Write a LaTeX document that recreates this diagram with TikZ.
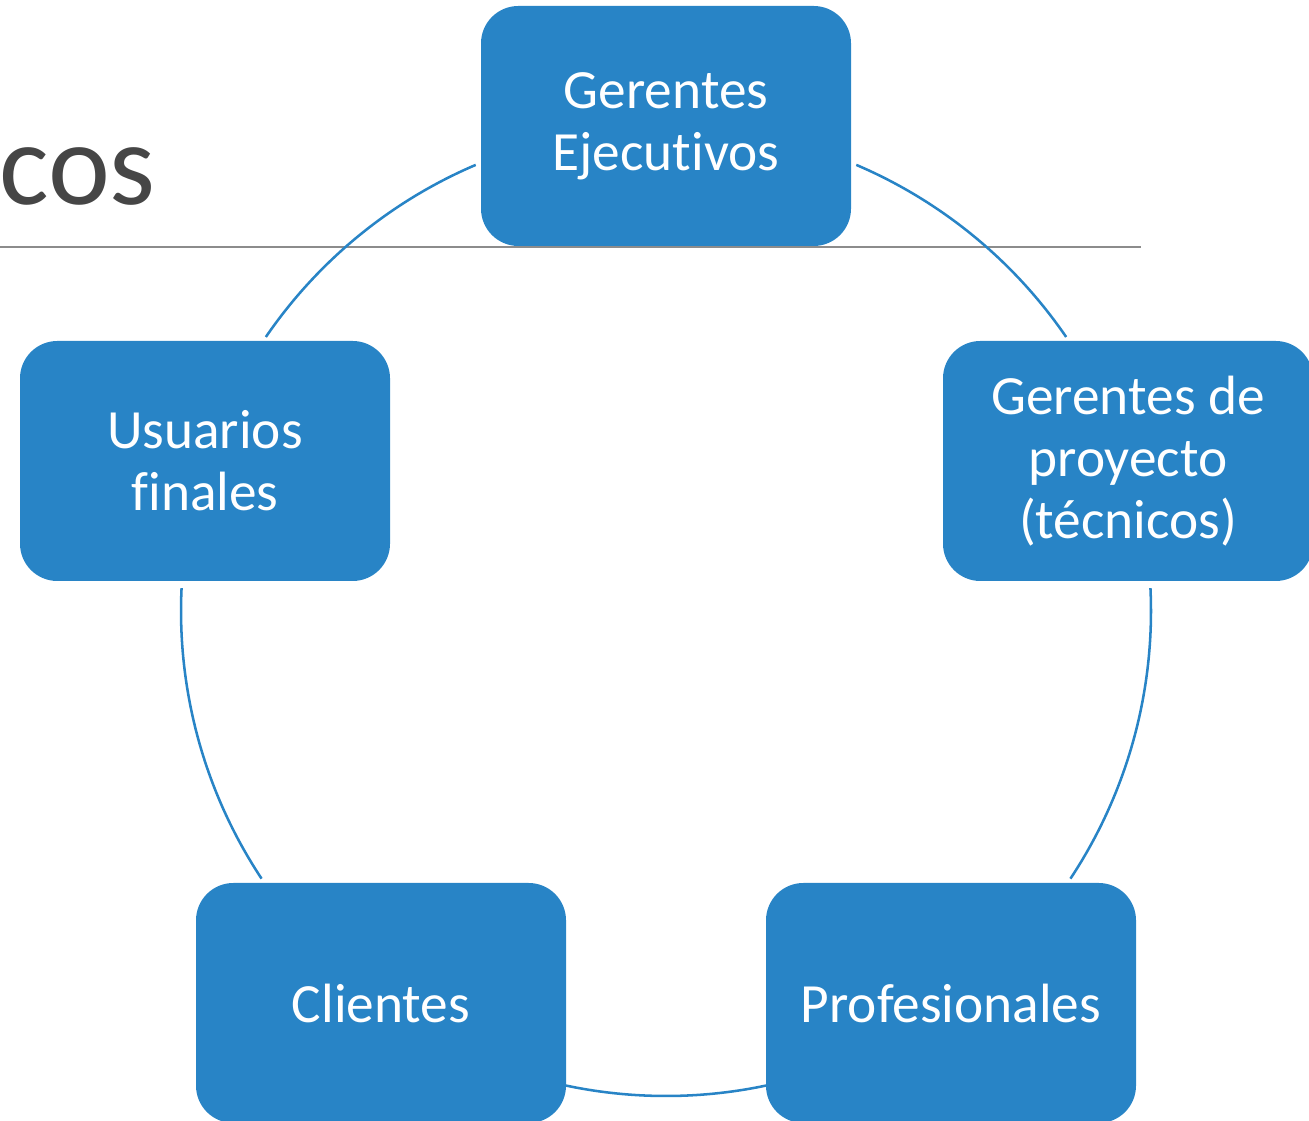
\documentclass[tikz,border=0pt]{standalone}
\usepackage{fontspec}
\setmainfont{Carlito}[Ligatures={NoCommon}]
\usetikzlibrary{positioning}

\definecolor{cycblue}{RGB}{40,132,198}
\definecolor{titlegray}{RGB}{70,70,70}
\definecolor{rulegray}{RGB}{140,140,140}

\tikzset{
  cycbox/.style={draw=none,fill=cycblue,rounded corners=28pt,minimum width=277.5pt,minimum height=180pt,inner sep=0pt,align=center,text=white,font=\fontsize{41.5}{46.5}\selectfont},
  cycarc/.style={draw=cycblue,line width=1.9pt}
}

\begin{document}
\begin{tikzpicture}[x=0.75pt,y=0.75pt]
\useasboundingbox (0,0) rectangle (1309,1120);
\clip (0,0) rectangle (1309,1120);

%Title (cut off on the left)
\node[anchor=base east,inner sep=0pt,text=titlegray,font=\fontsize{88}{100}\selectfont] (ttl) at (156,915) {cos};
%Straight Lines: title rule
\draw[rulegray,line width=1pt] (0,873) -- (1141,873);

%Shape: Circle centre of the cycle
\coordinate (ctr) at (666,509);

%Curve Lines
\draw[cycarc] (ctr) ++(66.9:363.75pt) arc[start angle=66.9,end angle=34.4,radius=363.75pt];
\draw[cycarc] (ctr) ++(2.7:363.75pt) arc[start angle=2.7,end angle=-33.5,radius=363.75pt];
\draw[cycarc] (ctr) ++(-78.1:363.75pt) arc[start angle=-78.1,end angle=-101.9,radius=363.75pt];
\draw[cycarc] (ctr) ++(213.5:363.75pt) arc[start angle=213.5,end angle=177.3,radius=363.75pt];
\draw[cycarc] (ctr) ++(145.6:363.75pt) arc[start angle=145.6,end angle=113.1,radius=363.75pt];

%Rounded Rect: the five groups
\node[cycbox] (ejec) at (666,994) {Gerentes\\Ejecutivos};
\node[cycbox] (proy) at (1128,659) {Gerentes de\\proyecto\\(técnicos)};
\node[cycbox] (prof) at (951,117) {Profesionales};
\node[cycbox] (clie) at (381,117) {Clientes};
\node[cycbox] (usua) at (205,659) {Usuarios\\finales};

\end{tikzpicture}
\end{document}
